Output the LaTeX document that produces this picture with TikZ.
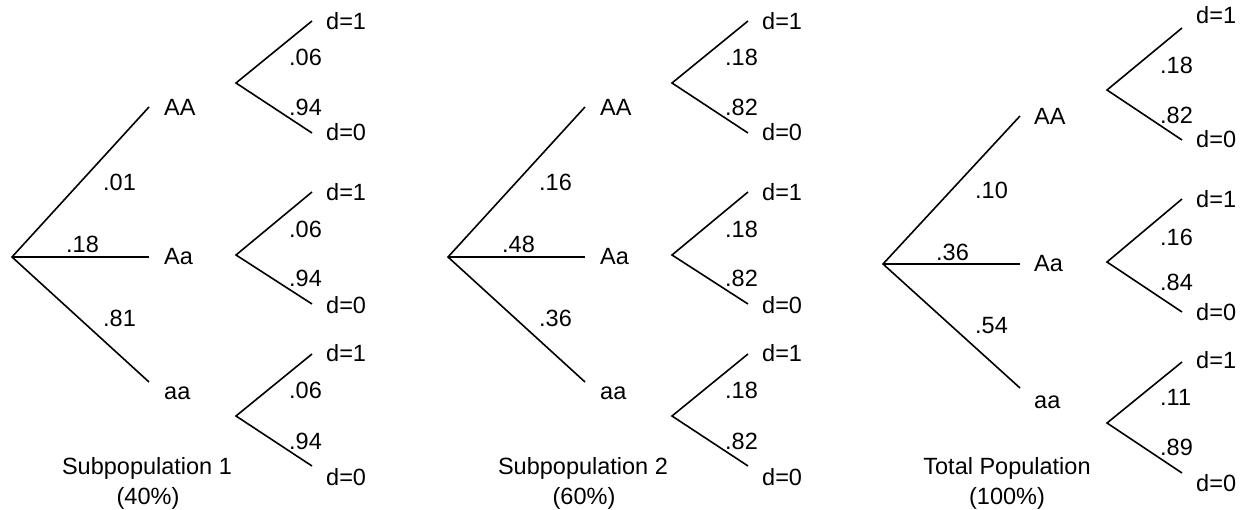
\documentclass[tikz,border=0pt]{standalone}
\usepackage{fontspec}
\setmainfont{Liberation Sans}
\begin{document}
\begin{tikzpicture}[x=1pt,y=-1pt,
  every node/.style={inner sep=0pt,font=\fontsize{23.5}{28}\selectfont},
  lbl/.style={anchor=west},
  captext/.style={anchor=center},
  edge/.style={line width=1.6pt,line join=miter}]
\useasboundingbox (0,0) rectangle (1245,510);
\newcommand\gtree[9]{%
\begin{scope}[xshift=#2]
  \coordinate (#1r) at (12,257);
  \coordinate (#1ea) at (149,107);
  \coordinate (#1eb) at (149,257);
  \coordinate (#1ec) at (149,382);
  \node[lbl] (#1AA) at (164,107) {AA};
  \node[lbl] (#1Aa) at (164,257) {Aa};
  \node[lbl] (#1aa) at (164,393) {aa};
  \draw[edge] (#1ea) -- (#1r) -- (#1ec);
  \draw[edge] (#1r) -- (#1eb);
  \node[lbl] (#1pa) at (103,182) {#3};
  \node[lbl] (#1pb) at (66,244) {#4};
  \node[lbl] (#1pc) at (103,318) {#5};
  \foreach \n/\ya/\yu/\yd/\du/\dd/\pu/\pd in {a/83/21/133/21/132/57/107, b/255/192/304/192/305/229/278, c/416/354/466/353/477/390/441}{
    \coordinate (#1f\n) at (236,\ya);
    \coordinate (#1fu\n) at (312,\yu);
    \coordinate (#1fd\n) at (312,\yd);
    \draw[edge] (#1fu\n) -- (#1f\n) -- (#1fd\n);
    \node[lbl] (#1du\n) at (326,\du) {d=1};
    \node[lbl] (#1dd\n) at (326,\dd) {d=0};
    \node[lbl] (#1pu\n) at (289,\pu) {#6};
    \node[lbl] (#1pd\n) at (289,\pd) {#7};
  }
  \node[captext] (#1cap) at (147,468) {#8};
  \node[captext] (#1pct) at (148,498) {#9};
\end{scope}}
\gtree{s}{0}{.01}{.18}{.81}{.06}{.94}{Subpopulation 1}{(40\%)}
\gtree{t}{436}{.16}{.48}{.36}{.18}{.82}{Subpopulation 2}{(60\%)}
% Total population
\coordinate (ur) at (883,264);
\coordinate (uea) at (1020,116);
\coordinate (ueb) at (1020,264);
\coordinate (uec) at (1020,388);
\node[lbl] (uAA) at (1034,116) {AA};
\node[lbl] (uAa) at (1034,264) {Aa};
\node[lbl] (uaa) at (1034,402) {aa};
\draw[edge] (uea) -- (ur) -- (uec);
\draw[edge] (ur) -- (ueb);
\node[lbl] (upa) at (975,190) {.10};
\node[lbl] (upb) at (936,252) {.36};
\node[lbl] (upc) at (975,326) {.54};
\foreach \n/\ya/\yu/\yd/\du/\dd/\pu/\pd/\tu/\td in {a/90/28/140/15/139/65/115/.18/.82, b/262/199/312/199/312/237/282/.16/.84, c/423/362/473/360/483/397/447/.11/.89}{
  \coordinate (uf\n) at (1107,\ya);
  \coordinate (ufu\n) at (1182,\yu);
  \coordinate (ufd\n) at (1182,\yd);
  \draw[edge] (ufu\n) -- (uf\n) -- (ufd\n);
  \node[lbl] (udu\n) at (1196,\du) {d=1};
  \node[lbl] (udd\n) at (1196,\dd) {d=0};
  \node[lbl] (upu\n) at (1160,\pu) {\tu};
  \node[lbl] (upd\n) at (1160,\pd) {\td};
}
\node[captext] (ucap) at (1007,468) {Total Population};
\node[captext] (upct) at (1007,498) {(100\%)};
\end{tikzpicture}
\end{document}
